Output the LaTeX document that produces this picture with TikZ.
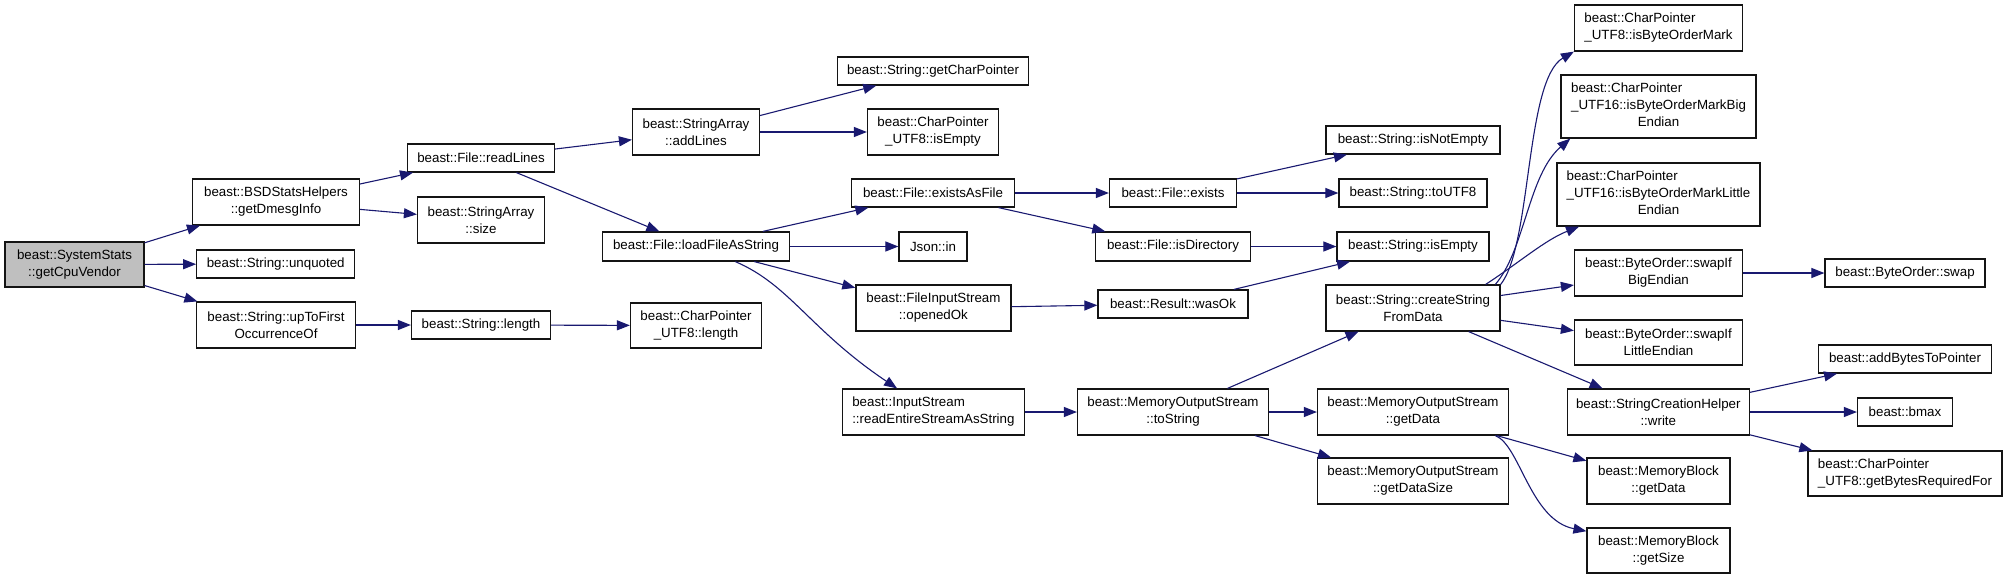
\documentclass[tikz,border=0pt]{standalone}
\usepackage{fontspec}
\setmainfont{Liberation Sans}
\usetikzlibrary{arrows.meta}
\definecolor{edgeblue}{RGB}{25,25,112}
\definecolor{boxline}{RGB}{20,20,20}
\newcommand{\leftlines}[1]{\begin{tabular}{@{}l@{}}#1\end{tabular}}
\tikzset{
  box/.style={draw=boxline, line width=1.2pt, fill=white, rectangle, inner sep=1pt,
    font=\fontsize{13.33}{17}\selectfont, align=center},
  rootbox/.style={box, fill=black!25},
  edge/.style={draw=edgeblue, line width=1.1pt, -{Triangle[length=13pt,width=10pt]}},
}
\begin{document}
\begin{tikzpicture}[x=1pt,y=-1pt]
\useasboundingbox (0,0) rectangle (2008,579);
% column 1
\node[rootbox, minimum width=139, minimum height=45] (root) at (74.5,264.5) {beast::SystemStats\\::getCpuVendor};
% column 2
\node[box, minimum width=167, minimum height=46] (dmesg) at (276,202) {beast::BSDStatsHelpers\\::getDmesgInfo};
\node[box, minimum width=158, minimum height=28] (unquoted) at (275.7,264) {beast::String::unquoted};
\node[box, minimum width=159, minimum height=46] (upto) at (276,325) {beast::String::upToFirst\\OccurrenceOf};
% column 3
\node[box, minimum width=147, minimum height=28] (readLines) at (481,158) {beast::File::readLines};
\node[box, minimum width=127, minimum height=46] (sasize) at (481,220) {beast::StringArray\\::size};
\node[box, minimum width=139, minimum height=28] (strlength) at (481,325) {beast::String::length};
% column 4
\node[box, minimum width=127, minimum height=46] (addLines) at (696,132) {beast::StringArray\\::addLines};
\node[box, minimum width=187, minimum height=29] (loadFile) at (696,246.5) {beast::File::loadFileAsString};
\node[box, minimum width=131, minimum height=45] (cpLength) at (696,325.5) {beast::CharPointer\\\_UTF8::length};
% column 5
\node[box, minimum width=191, minimum height=28] (getCharPointer) at (933,71) {beast::String::getCharPointer};
\node[box, minimum width=131, minimum height=46] (cpIsEmpty) at (933,132) {beast::CharPointer\\\_UTF8::isEmpty};
\node[box, minimum width=163, minimum height=28] (existsAsFile) at (933,193) {beast::File::existsAsFile};
\node[box, minimum width=68, minimum height=29] (jsonin) at (933,246.5) {Json::in};
\node[box, minimum width=155, minimum height=46] (openedOk) at (933.4,308) {beast::FileInputStream\\::openedOk};
\node[box, minimum width=182, minimum height=46] (readEntire) at (933.4,412) {\leftlines{beast::InputStream\\::readEntireStreamAsString}};
% column 6
\node[box, minimum width=127, minimum height=28] (exists) at (1173,193) {beast::File::exists};
\node[box, minimum width=155, minimum height=29] (isDirectory) at (1173,246.5) {beast::File::isDirectory};
\node[box, minimum width=150, minimum height=28] (wasOk) at (1173,304) {beast::Result::wasOk};
\node[box, minimum width=191, minimum height=46] (toString) at (1173,412) {beast::MemoryOutputStream\\::toString};
% column 7
\node[box, minimum width=174, minimum height=28] (isNotEmpty) at (1413,140) {beast::String::isNotEmpty};
\node[box, minimum width=148, minimum height=28] (toUTF8) at (1413,193) {beast::String::toUTF8};
\node[box, minimum width=152, minimum height=29] (strIsEmpty) at (1413,246.5) {beast::String::isEmpty};
\node[box, minimum width=174, minimum height=46] (createStr) at (1413,308) {beast::String::createString\\FromData};
\node[box, minimum width=191, minimum height=46] (mosGetData) at (1413,412) {beast::MemoryOutputStream\\::getData};
\node[box, minimum width=191, minimum height=46] (getDataSize) at (1413,481) {beast::MemoryOutputStream\\::getDataSize};
% column 8
\node[box, minimum width=168, minimum height=46] (isBOM) at (1658.5,28) {\leftlines{beast::CharPointer\\\_UTF8::isByteOrderMark}};
\node[box, minimum width=195, minimum height=63] (isBOMBig) at (1658.5,106.5) {\leftlines{beast::CharPointer\\\_UTF16::isByteOrderMarkBig\\\multicolumn{1}{@{}c@{}}{Endian}}};
\node[box, minimum width=203, minimum height=63] (isBOMLittle) at (1658.5,194.5) {\leftlines{beast::CharPointer\\\_UTF16::isByteOrderMarkLittle\\\multicolumn{1}{@{}c@{}}{Endian}}};
\node[box, minimum width=168, minimum height=46] (swapBig) at (1658.5,273) {beast::ByteOrder::swapIf\\BigEndian};
\node[box, minimum width=168, minimum height=45] (swapLittle) at (1658.5,342.5) {beast::ByteOrder::swapIf\\LittleEndian};
\node[box, minimum width=182, minimum height=46] (write) at (1658.3,412) {beast::StringCreationHelper\\::write};
\node[box, minimum width=143, minimum height=46] (mbGetData) at (1658.5,481) {beast::MemoryBlock\\::getData};
\node[box, minimum width=143, minimum height=45] (mbGetSize) at (1658.5,550.5) {beast::MemoryBlock\\::getSize};
% column 9
\node[box, minimum width=160, minimum height=28] (bswap) at (1905,273) {beast::ByteOrder::swap};
\node[box, minimum width=173, minimum height=28] (addBytes) at (1905,359) {beast::addBytesToPointer};
\node[box, minimum width=95, minimum height=28] (bmax) at (1905,412) {beast::bmax};
\node[box, minimum width=194, minimum height=45] (bytesReq) at (1905,473.5) {\leftlines{beast::CharPointer\\\_UTF8::getBytesRequiredFor}};
% edges
\draw[edge] (root) -- (dmesg);
\draw[edge] (root) -- (unquoted);
\draw[edge] (root) -- (upto);
\draw[edge] (dmesg) -- (readLines);
\draw[edge] (dmesg) -- (sasize);
\draw[edge] (upto) -- (strlength);
\draw[edge] (readLines) -- (addLines);
\draw[edge] (readLines) -- (loadFile);
\draw[edge] (strlength) -- (cpLength);
\draw[edge] (addLines) -- (getCharPointer);
\draw[edge] (addLines) -- (cpIsEmpty);
\draw[edge] (loadFile) -- (existsAsFile);
\draw[edge] (loadFile) -- (jsonin);
\draw[edge] (loadFile) -- (openedOk);
\draw[edge] (loadFile.-21) .. controls (790,285) and (810,330) .. (readEntire.147);
\draw[edge] (existsAsFile) -- (exists);
\draw[edge] (existsAsFile) -- (isDirectory);
\draw[edge] (exists) -- (isNotEmpty);
\draw[edge] (exists) -- (toUTF8);
\draw[edge] (isDirectory) -- (strIsEmpty);
\draw[edge] (openedOk) -- (wasOk);
\draw[edge] (wasOk) -- (strIsEmpty);
\draw[edge] (readEntire) -- (toString);
\draw[edge] (toString) -- (createStr);
\draw[edge] (toString) -- (mosGetData);
\draw[edge] (toString) -- (getDataSize);
\draw[edge] (createStr.15) .. controls (1532,245) and (1525,80) .. (isBOM.south west);
\draw[edge] (createStr.16) .. controls (1525,250) and (1528,175) .. (isBOMBig.200);
\draw[edge] (createStr.18) .. controls (1520,262) and (1545,240) .. (isBOMLittle.202);
\draw[edge] (createStr) -- (swapBig);
\draw[edge] (createStr) -- (swapLittle);
\draw[edge] (createStr) -- (write);
\draw[edge] (swapBig) -- (bswap);
\draw[edge] (mosGetData) -- (mbGetData);
\draw[edge] (mosGetData.-16) .. controls (1520,445) and (1530,520) .. (mbGetSize.165);
\draw[edge] (write) -- (addBytes);
\draw[edge] (write) -- (bmax);
\draw[edge] (write) -- (bytesReq);
\end{tikzpicture}
\end{document}
